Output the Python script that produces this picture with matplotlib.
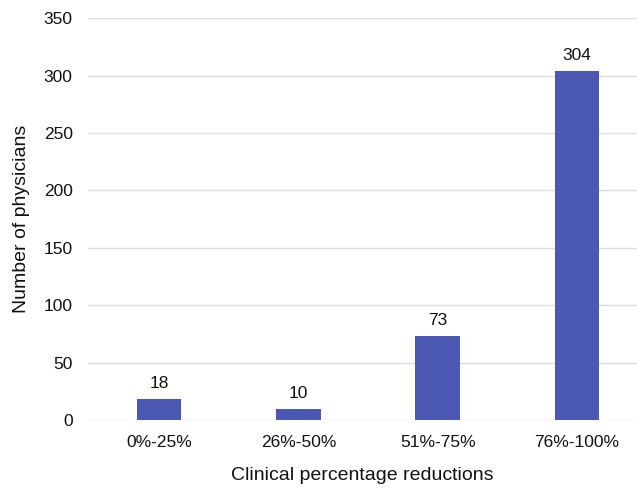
import matplotlib
matplotlib.use('Agg')
import matplotlib.pyplot as plt

plt.rcParams['font.family'] = ['Liberation Sans', 'DejaVu Sans']

# reduction bins and physician counts
categories = ['0%-25%', '26%-50%', '51%-75%', '76%-100%']
counts = [18, 10, 73, 304]
yticks = [0, 50, 100, 150, 200, 250, 300, 350]

fig = plt.figure(figsize=(6.37, 4.88), dpi=100)
ax = fig.add_axes([0.138, 0.139, 0.862, 0.824])

x = range(len(categories))
bars = ax.bar(x, counts, width=0.32, color='#4a58b3', zorder=3)
for b, v in zip(bars, counts):
    ax.text(b.get_x() + b.get_width() / 2, v + 7, str(v),
            ha='center', va='bottom', fontsize=12.5, color='#111111')

ax.set_ylim(0, 350)
ax.set_xlim(-0.51, 3.43)
ax.set_yticks(yticks)
ax.set_xticks(list(x))
ax.set_xticklabels(categories)
ax.tick_params(length=0, labelsize=12.5, colors='#111111')
ax.tick_params(axis='y', pad=11)
ax.tick_params(axis='x', pad=11)
ax.grid(axis='y', color='#dddddd', linewidth=1, zorder=0)
for s in ax.spines.values():
    s.set_visible(False)

ax.set_ylabel('Number of physicians', fontsize=14, labelpad=10, color='#111111')
ax.set_xlabel('Clinical percentage reductions', fontsize=14, labelpad=12, color='#111111')

fig.savefig('out.png', dpi=100)
